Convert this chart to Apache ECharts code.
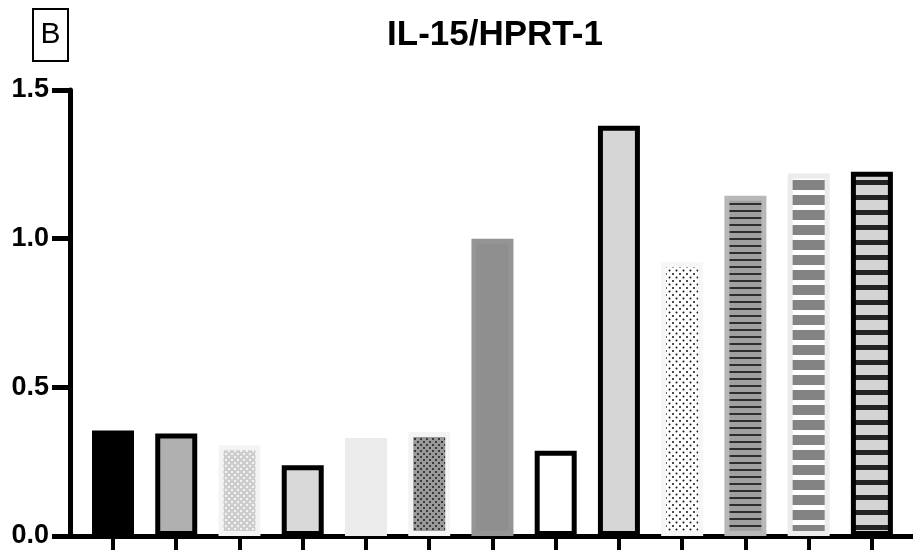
<!DOCTYPE html>
<html>
<head>
<meta charset="utf-8">
<script src="https://cdn.jsdelivr.net/npm/echarts@6/dist/echarts.min.js"></script>
<style>
  html, body { margin: 0; padding: 0; background: #fff; }
  #chart { width: 913px; height: 550px; }
</style>
</head>
<body>
<div id="chart"></div>
<script>
// group index along the x axis (labels are not shown in the figure)
const categories = ["1", "2", "3", "4", "5", "6", "7", "8", "9", "10", "11", "12", "13"];
// IL-15 / HPRT-1 relative expression
const ratio = [0.355, 0.345, 0.305, 0.238, 0.33, 0.35, 1.0, 0.287, 1.38, 0.92, 1.144, 1.219, 1.225];
const yTicks = [0, 0.5, 1.0, 1.5];

// small repeating fills, like the prism-style bar patterns
function tile(w, h, bg, draw) {
  const c = document.createElement("canvas");
  c.width = w;
  c.height = h;
  const g = c.getContext("2d");
  g.fillStyle = bg;
  g.fillRect(0, 0, w, h);
  draw(g);
  return { image: c, repeat: "repeat" };
}
function dots(size, bg, fg, r) {
  return tile(size, size, bg, g => {
    g.fillStyle = fg;
    [[1, 1], [1 + size / 2, 1 + size / 2]].forEach(p => {
      g.beginPath();
      g.arc(p[0], p[1], r, 0, Math.PI * 2);
      g.fill();
    });
  });
}
function stripes(h, bg, fg, band) {
  return tile(4, h, bg, g => {
    g.fillStyle = fg;
    g.fillRect(0, 0, 4, band);
  });
}

const barStyles = [
  { color: "#000000", border: "#000000" },
  { color: "#b0b0b0", border: "#000000" },
  { color: dots(6, "#cdcdcd", "#ffffff", 1), border: "#f4f4f4" },
  { color: "#d9d9d9", border: "#000000" },
  { color: "#ebebeb", border: "#ebebeb" },
  { color: dots(6, "#9a9a9a", "#1a1a1a", 1), border: "#f4f4f4" },
  { color: "#8f8f8f", border: "#959595" },
  { color: "#ffffff", border: "#000000" },
  { color: "#d6d6d6", border: "#000000" },
  { color: dots(7, "#ffffff", "#111111", 1), border: "#f6f6f6" },
  { color: stripes(7, "#a0a0a0", "#2e2e2e", 2), border: "#b8b8b8" },
  { color: stripes(15, "#ffffff", "#838383", 10), border: "#ececec" },
  { color: stripes(15, "#d4d4d4", "#232323", 5), border: "#000000" }
];

const chart = echarts.init(document.getElementById("chart"));
const font = "Liberation Sans";

chart.setOption({
  animation: false,
  title: {
    text: "IL-15/HPRT-1",
    left: 490,
    textAlign: "center",
    top: 13,
    textStyle: { fontFamily: font, fontSize: 35, fontWeight: "bold", color: "#000" }
  },
  graphic: [
    {
      type: "rect",
      shape: { x: 33, y: 9, width: 35, height: 52 },
      style: { fill: "#fff", stroke: "#000", lineWidth: 2 }
    },
    {
      type: "text",
      x: 50.5,
      y: 35,
      style: {
        text: "B",
        fontFamily: font,
        fontSize: 30,
        fill: "#000",
        align: "center",
        verticalAlign: "middle"
      }
    }
  ],
  grid: { left: 70, right: 0, top: 90, bottom: 14 },
  xAxis: {
    type: "value",
    min: -0.68,
    max: 12.65,
    splitLine: { show: false },
    axisLine: { lineStyle: { color: "#000", width: 5 } },
    axisTick: {
      customValues: categories.map((c, i) => i),
      length: 20,
      lineStyle: { color: "#000", width: 4 }
    },
    axisLabel: { show: false }
  },
  yAxis: {
    type: "value",
    min: 0,
    max: 1.5,
    interval: 0.5,
    splitLine: { show: false },
    axisLine: { show: true, onZero: false, lineStyle: { color: "#000", width: 5 } },
    axisTick: { show: true, length: 18, lineStyle: { color: "#000", width: 5 } },
    axisLabel: {
      customValues: yTicks,
      margin: 21,
      fontFamily: font,
      fontSize: 27,
      fontWeight: "bold",
      color: "#000",
      formatter: v => v.toFixed(1)
    }
  },
  series: [
    {
      type: "bar",
      barWidth: 42,
      data: ratio.map((v, i) => ({
        value: [i, v],
        itemStyle: {
          color: barStyles[i].color,
          borderColor: barStyles[i].border,
          borderWidth: 5
        }
      }))
    }
  ]
});
</script>
</body>
</html>
